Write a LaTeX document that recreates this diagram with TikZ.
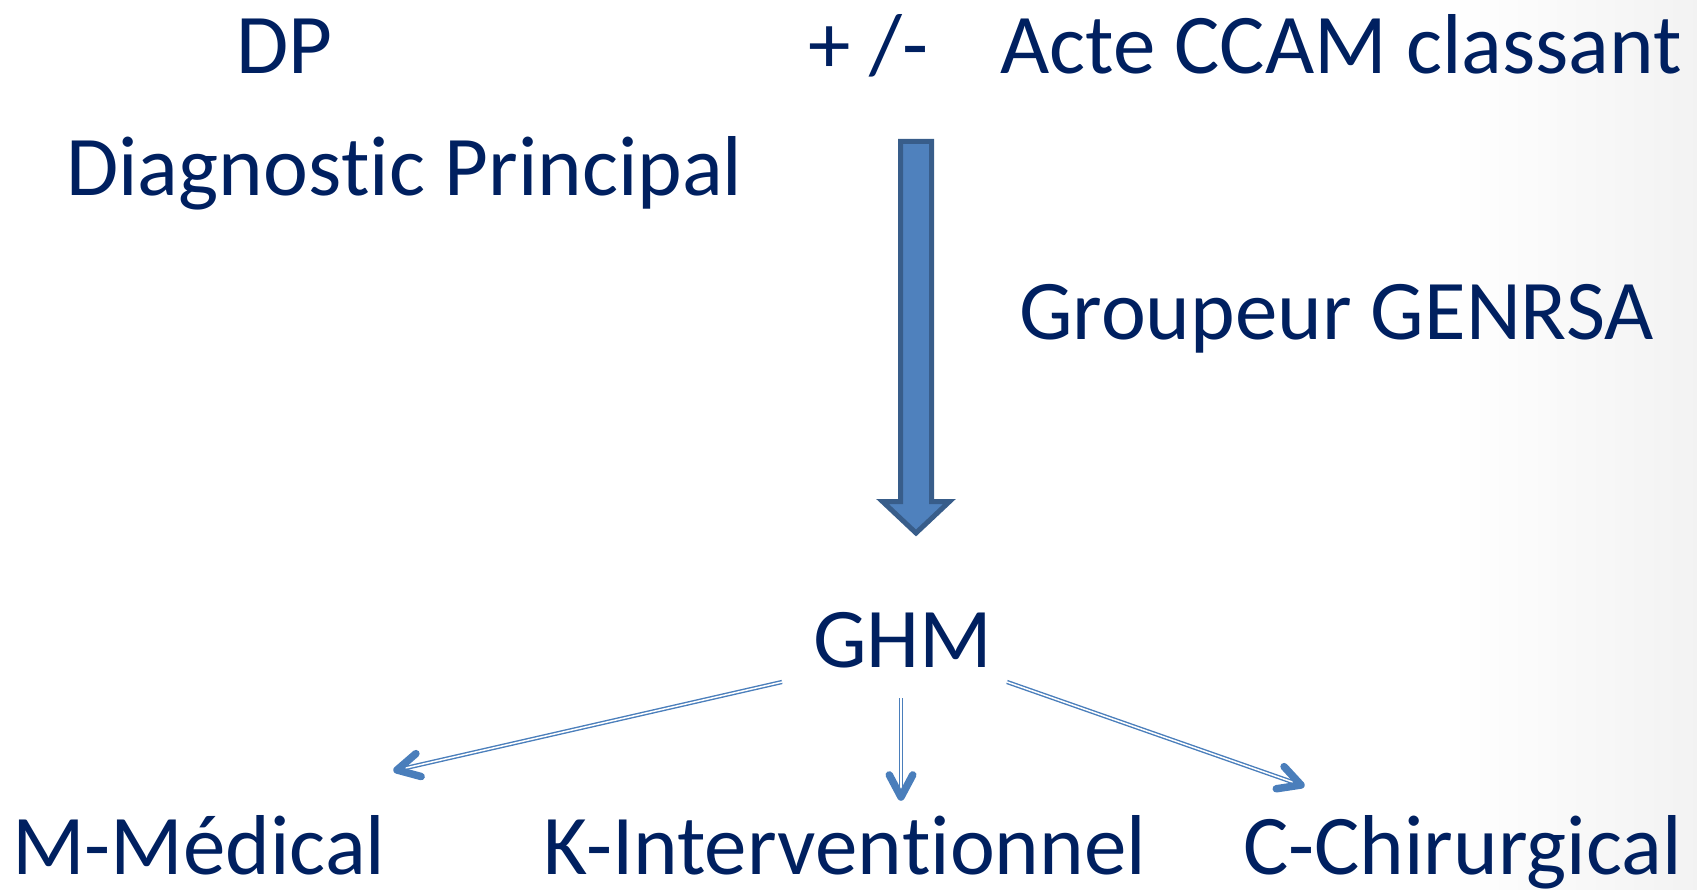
\documentclass[tikz,border=0pt]{standalone}
\usepackage{fontspec}
\setmainfont[Ligatures={NoCommon,NoRare,NoDiscretionary}]{Carlito}
\usetikzlibrary{calc}
\definecolor{navy}{HTML}{002060}
\definecolor{afill}{HTML}{4F81BD}
\definecolor{aline}{HTML}{385D8A}
\definecolor{conncol}{HTML}{4A7EBB}
\begin{document}
\begin{tikzpicture}[x=1pt,y=-1pt,
  lbl/.style={anchor=base west,inner sep=0pt,text=navy,font=\fontsize{85}{98}\selectfont},
  conn/.style={draw=conncol,line width=1.4pt,double=white,double distance=1.5pt,shorten >=3pt},
  chevron/.style={draw=conncol,line width=7.5pt,line cap=round,line join=round},
  bigarrow/.style={fill=afill,draw=aline,line width=5pt,line join=miter}]
\useasboundingbox (0,0) rectangle (1697,890);
\shade[left color=white,right color=black!5] (1450,0) rectangle (1697,890);
% texts
\node[lbl] (dp) at (236,74) {DP};
\node[lbl] (diag) at (66,196) {Diagnos\kern0pt t\kern0pt ic Principal};
\node[lbl] (plus) at (808,74) {+ /-};
\node[lbl] (acte) at (1000,74) {Acte CCAM classant};
\node[lbl] (grp) at (1019,340) {Groupeur GENRSA};
\node[lbl] (ghm) at (813,667) {GHM};
\node[lbl] (med) at (12,874) {M-Médical};
\node[lbl] (kint) at (543,874) {K-Interven\kern0pt t\kern0pt ionnel};
\node[lbl] (chir) at (1243,874) {C-Chirurgical};
% big arrow
\path[bigarrow] (900.5,141.5) -- (931.5,141.5) -- (931.5,501.5) -- (949.5,501.5)
  -- (916,533) -- (882.5,501.5) -- (900.5,501.5) -- cycle;
% connectors
\coordinate (s1) at (782,682);
\coordinate (t1) at (397,770);
\coordinate (s2) at (901,698);
\coordinate (t2) at (901,797);
\coordinate (s3) at (1007,682);
\coordinate (t3) at (1301,785);
\draw[conn] (s1) -- (t1);
\draw[conn] (s2) -- (t2);
\draw[conn] (s3) -- (t3);
\draw[chevron] ($(t1)!25pt!28:(s1)$) -- (t1) -- ($(t1)!25pt!-28:(s1)$);
\draw[chevron] ($(t2)!25pt!28:(s2)$) -- (t2) -- ($(t2)!25pt!-28:(s2)$);
\draw[chevron] ($(t3)!25pt!28:(s3)$) -- (t3) -- ($(t3)!25pt!-28:(s3)$);
\end{tikzpicture}
\end{document}
